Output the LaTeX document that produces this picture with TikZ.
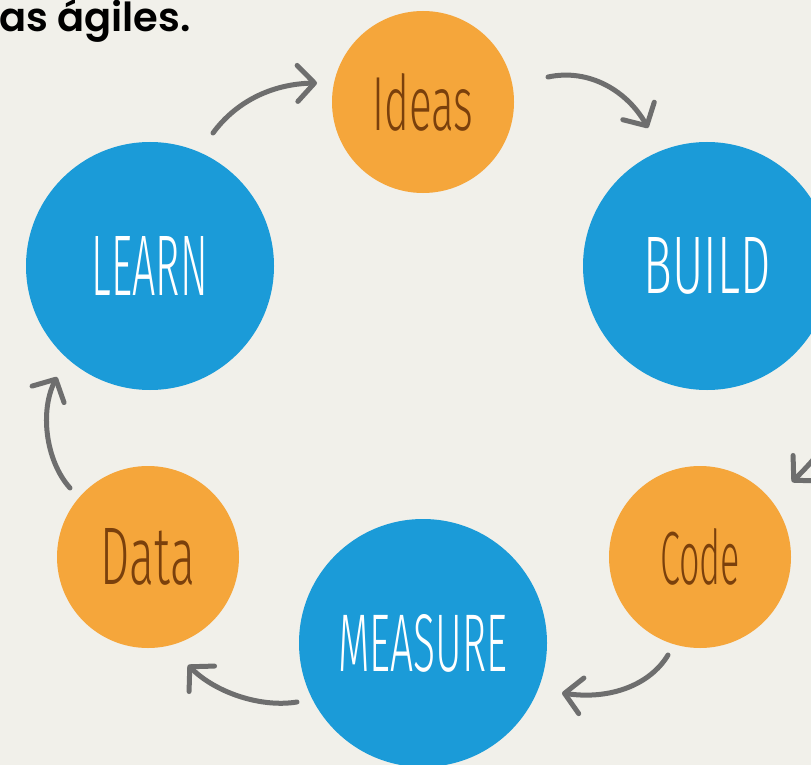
\documentclass[tikz,border=0pt]{standalone}
\usepackage{fontspec}
\usepackage{graphicx}
\setmainfont{Fira Sans}
\newfontfamily\titlefont{Poppins SemiBold}
\newfontfamily\handfont{Fira Sans Light}
\usetikzlibrary{arrows.meta}
\definecolor{bg}{HTML}{F1F0EA}
\definecolor{cblue}{HTML}{1B9BD8}
\definecolor{corange}{HTML}{F5A63B}
\definecolor{cbrown}{HTML}{7A400C}
\definecolor{carrow}{HTML}{6E6E6E}
\newcommand\fitword[3]{\resizebox{#1pt}{#2pt}{\handfont #3}}
\tikzset{
  bluec/.style={circle, fill=cblue, inner sep=0pt, text=white},
  orangec/.style={circle, fill=corange, inner sep=0pt, text=cbrown},
  arr/.style={draw=carrow, line width=5pt, line cap=round,
    -{Straight Barb[length=17pt, width=36pt, round]}}
}
\begin{document}
\begin{tikzpicture}[x=1pt, y=-1pt]
\useasboundingbox (0,0) rectangle (811,765);
\clip (0,0) rectangle (811,765);
\fill[bg] (0,0) rectangle (811,765);

\node[anchor=base east, inner sep=0pt, text=black, font=\titlefont\fontsize{40}{44}\selectfont] (title) at (191,32) {as ágiles.};

\node[orangec, minimum size=182pt] (ideas) at (423,102) {\fitword{101}{57}{Ideas}};
\node[bluec, minimum size=248pt] (build) at (707,266) {\fitword{127}{56}{BUILD}};
\node[orangec, minimum size=182pt] (code) at (700,557) {\fitword{80}{56}{Code}};
\node[bluec, minimum size=248pt] (measure) at (423,643) {\fitword{169}{57}{MEASURE}};
\node[orangec, minimum size=182pt] (data) at (148,557) {\fitword{94}{56}{Data}};
\node[bluec, minimum size=248pt] (learn) at (150,266) {\fitword{116}{59}{LEARN}};

\coordinate (a1s) at (213,133); \coordinate (a1e) at (317,83);
\coordinate (a2s) at (548,77);  \coordinate (a2e) at (648,128);
\coordinate (a3s) at (845,395); \coordinate (a3e) at (792,482);
\coordinate (a4s) at (668,655); \coordinate (a4e) at (562,693);
\coordinate (a5s) at (297,702); \coordinate (a5e) at (188,665);
\coordinate (a6s) at (70,488);  \coordinate (a6e) at (57,377);

\draw[arr] (a1s) .. controls (235,103) and (270,84) .. (a1e);
\draw[arr] (a2s) .. controls (590,68) and (628,92) .. (a2e);
\draw[arr] (a3s) .. controls (842,430) and (815,459) .. (a3e);
\draw[arr] (a4s) .. controls (650,685) and (610,700) .. (a4e);
\draw[arr] (a5s) .. controls (260,708) and (215,692) .. (a5e);
\draw[arr] (a6s) .. controls (45,460) and (40,410) .. (a6e);
\end{tikzpicture}
\end{document}
